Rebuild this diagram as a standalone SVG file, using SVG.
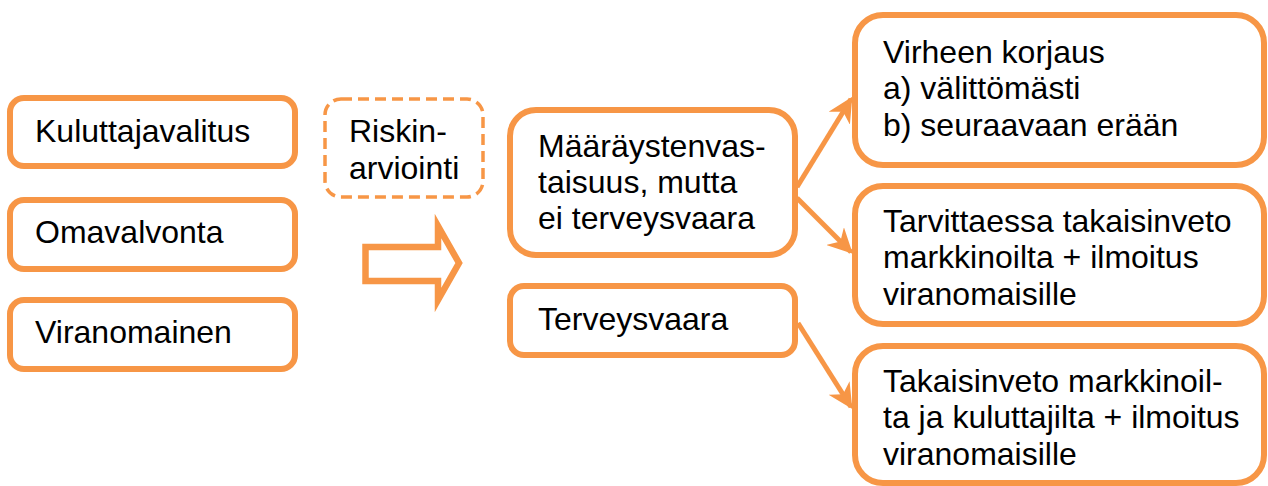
<svg xmlns="http://www.w3.org/2000/svg" width="1268" height="486" viewBox="0 0 1268 486">
<style>
.box{fill:#fff;stroke:#F79646;stroke-width:6}
.dash{fill:#fff;stroke:#F79646;stroke-width:3.5;stroke-dasharray:11 6}
.t{font-family:"Liberation Sans",Arial,sans-serif;font-size:32px;fill:#000}
.c{stroke:#F79646;stroke-width:5;fill:none}
</style>
<defs>
<marker id="ah" viewBox="0 0 10 10" refX="9" refY="5" markerWidth="5" markerHeight="5" orient="auto" markerUnits="strokeWidth">
<path d="M0,0 L10,5 L0,10 L3,5 Z" fill="#F79646"/>
</marker>
</defs>
<rect width="1268" height="486" fill="#fff"/>
<g id="n-kuluttajavalitus"><rect class="box" x="10" y="98" width="285" height="68" rx="14"/><text class="t" x="35" y="142">Kuluttajavalitus</text></g>
<g id="n-omavalvonta"><rect class="box" x="10" y="200" width="285" height="69" rx="14"/><text class="t" x="35" y="243">Omavalvonta</text></g>
<g id="n-viranomainen"><rect class="box" x="10" y="300" width="285" height="69" rx="14"/><text class="t" x="35" y="343">Viranomainen</text></g>
<g id="n-riski"><rect class="dash" x="325" y="99" width="158" height="98" rx="16"/><text class="t" x="349" y="142">Riskin-</text><text class="t" x="349" y="179">arviointi</text></g>
<g id="n-arrow"><polygon points="365.5,247 438,247 438,226 459,263 438,300 438,281 365.5,281" fill="#fff" stroke="#F79646" stroke-width="6.5"/></g>
<g id="n-maaraysten"><rect class="box" x="510" y="110" width="285" height="145" rx="26"/><text class="t" x="538" y="157">Määräystenvas-</text><text class="t" x="538" y="193">taisuus, mutta</text><text class="t" x="538" y="229">ei terveysvaara</text></g>
<g id="n-terveysvaara"><rect class="box" x="510" y="286" width="285" height="69" rx="14"/><text class="t" x="538" y="330">Terveysvaara</text></g>
<g id="n-virheen"><rect class="box" x="855" y="15" width="409" height="150" rx="28"/><text class="t" x="883" y="63">Virheen korjaus</text><text class="t" x="883" y="99">a) välittömästi</text><text class="t" x="883" y="136">b) seuraavaan erään</text></g>
<g id="n-tarvittaessa"><rect class="box" x="855" y="186" width="409" height="138" rx="28"/><text class="t" x="883" y="232">Tarvittaessa takaisinveto</text><text class="t" x="883" y="268">markkinoilta + ilmoitus</text><text class="t" x="883" y="305">viranomaisille</text></g>
<g id="n-takaisinveto"><rect class="box" x="855" y="346" width="409" height="137" rx="28"/><text class="t" x="883" y="392">Takaisinveto markkinoil-</text><text class="t" x="883" y="428">ta ja kuluttajilta + ilmoitus</text><text class="t" x="883" y="465">viranomaisille</text></g>
<g id="connectors">
<line class="c" x1="797" y1="187" x2="851" y2="99" marker-end="url(#ah)"/>
<line class="c" x1="797" y1="198" x2="851" y2="252" marker-end="url(#ah)"/>
<line class="c" x1="798" y1="323" x2="851" y2="407" marker-end="url(#ah)"/>
</g>
</svg>
